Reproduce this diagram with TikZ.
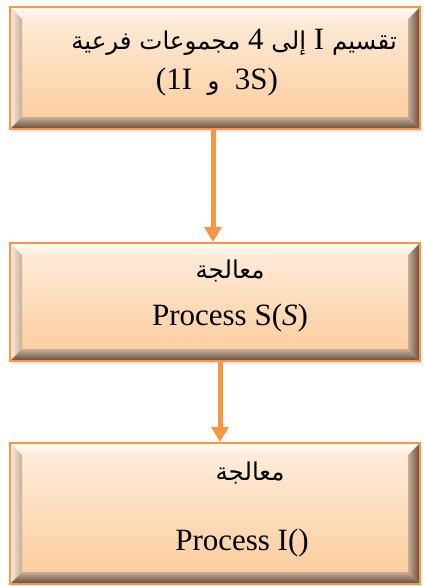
\documentclass[tikz,border=0pt]{standalone}
\usepackage{fontspec}
\setmainfont{Liberation Serif}
\newfontfamily\arabicfont[Script=Arabic]{DejaVu Sans}
\TeXXeTstate=1
\usetikzlibrary{arrows.meta,calc,shadows}

\definecolor{boxorange}{HTML}{F79646}
\definecolor{facetop}{HTML}{FEEEDF}
\definecolor{facebot}{HTML}{FBCB99}
\definecolor{bevlight}{HTML}{FFF9F2}
\definecolor{bevtan}{HTML}{C9AD96}
\definecolor{bevdark}{HTML}{5F4A3B}

\tikzset{
  bevelbox/.style={draw=boxorange, line width=2.2pt, top color=facetop, bottom color=facebot,
    minimum width=410pt, inner sep=0pt,
    drop shadow={opacity=0.18, shadow xshift=2pt, shadow yshift=-3pt},
    path picture={
      \path (path picture bounding box.south west) coordinate (pa)
            (path picture bounding box.north east) coordinate (pb);
      % top and left bevels
      \shade[top color=bevlight, bottom color=facetop] (pa |- pb) -- (pb) -- ($(pb)+(-12pt,-12pt)$) -- ($(pa |- pb)+(12pt,-12pt)$) -- cycle;
      \shade[left color=facetop, right color=bevtan] (pa) -- (pa |- pb) -- ($(pa |- pb)+(12pt,-12pt)$) -- ($(pa)+(12pt,12pt)$) -- cycle;
      % right and bottom bevels
      \shade[left color=bevtan, right color=bevdark] (pb) -- (pb |- pa) -- ($(pb |- pa)+(-12pt,12pt)$) -- ($(pb)+(-12pt,-12pt)$) -- cycle;
      \shade[top color=bevtan, bottom color=bevdark] (pa) -- (pb |- pa) -- ($(pb |- pa)+(-12pt,12pt)$) -- ($(pa)+(12pt,12pt)$) -- cycle;
    }},
  boxtext/.style={inner sep=0pt, font=\fontsize{31}{37}\selectfont},
  arabtext/.style={inner sep=0pt, font=\fontsize{24.5}{30}\selectfont\arabicfont},
  flowarrow/.style={draw=boxorange, line width=5pt, -{Triangle[width=17pt,length=15pt]}}
}

\begin{document}
\begin{tikzpicture}[x=1pt, y=-1pt]
  \useasboundingbox (0,0) rectangle (423,586);

  % Boxes
  \node[bevelbox, minimum height=122pt] (split) at (215,68) {};
  \node[bevelbox, minimum height=118pt] (procS) at (215,302) {};
  \node[bevelbox, minimum height=141pt] (procI) at (215,513.5) {};

  % Texts of the first box
  \node[arabtext, anchor=east] (splittitle) at (397,42) {\beginR تقسيم {\rmfamily\fontsize{31}{37}\selectfont I} إلى {\rmfamily\fontsize{31}{37}\selectfont 4} مجموعات فرعية\endR};
  \node[boxtext] (splitsets) at (217,82) {(1I \ {\arabicfont\fontsize{24.5}{30}\selectfont\beginR و\endR} \ 3S)};

  % Texts of the second box
  \node[arabtext] (procStitle) at (230,271) {\beginR معالجة\endR};
  \node[boxtext] (procScall) at (230,318) {Process S(\textit{S})};

  % Texts of the third box
  \node[arabtext] (procItitle) at (250,473) {\beginR معالجة\endR};
  \node[boxtext] (procIcall) at (242,543) {Process I()};

  % Arrows
  \draw[flowarrow] ([xshift=-2pt]split.south) -- ([xshift=-2pt]procS.north);
  \draw[flowarrow] ([xshift=5pt]procS.south) -- ([xshift=5pt]procI.north);
\end{tikzpicture}
\end{document}
